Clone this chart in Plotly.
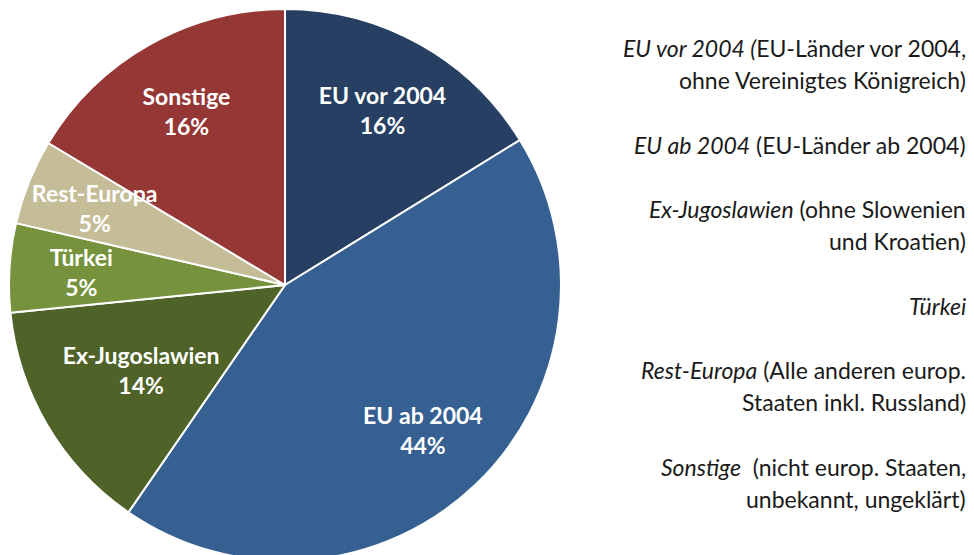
import plotly.graph_objects as go

# slice values estimated from the angles in the picture; shown labels as printed
categories = ["EU vor 2004", "EU ab 2004", "Ex-Jugoslawien", "Türkei", "Rest-Europa", "Sonstige"]
values = [16.2, 43.4, 13.8, 5.2, 5.0, 16.4]
shown_pct = ["16%", "44%", "14%", "5%", "5%", "16%"]
colours = ["#263f62", "#376092", "#4f6228", "#76923c", "#c4bd97", "#953735"]

# explanatory text on the right (blank strings are spacer lines)
notes = [
    "<i>EU vor 2004 (</i>EU-Länder vor 2004,",
    "ohne Vereinigtes Königreich)",
    "",
    "<i>EU ab 2004</i> (EU-Länder ab 2004)",
    "",
    "<i>Ex-Jugoslawien</i> (ohne Slowenien",
    "und Kroatien)",
    "",
    "<i>Türkei</i>",
    "",
    "<i>Rest-Europa</i> (Alle anderen europ.",
    "Staaten inkl. Russland)",
    "",
    "<i>Sonstige</i>  (nicht europ. Staaten,",
    "unbekannt, ungeklärt)",
]

W, H = 974, 555
OFF = 8  # page body margin shifts the figure by 8px
FONT = "Lato, 'Open Sans', Arial, sans-serif"
LABEL_SIZE = 23

# pie geometry in screen pixels (centre and radius)
cx, cy, r = 285 - OFF, 285 - OFF, 276


def domain(radius):
    return dict(
        x=[(cx - radius) / W, (cx + radius) / W],
        y=[max(0.0, 1 - (cy + radius) / H), min(1.0, 1 - (cy - radius) / H)],
    )


labels_txt = [f"<b>{c}<br>{p}</b>" for c, p in zip(categories, shown_pct)]
big = [v >= 15 for v in values]

fig = go.Figure()

# coloured slices, no text
fig.add_trace(go.Pie(
    labels=categories,
    values=values,
    sort=False,
    direction="clockwise",
    rotation=0,
    marker=dict(colors=colours, line=dict(color="#ffffff", width=2)),
    textinfo="none",
    domain=domain(r),
    showlegend=False,
    hoverinfo="label+value",
))


def label_ring(mask, radius, hole):
    # transparent copy of the same data, used only to place the slice labels
    return go.Pie(
        labels=categories,
        values=values,
        text=[t if m else "" for t, m in zip(labels_txt, mask)],
        sort=False,
        direction="clockwise",
        rotation=0,
        hole=hole,
        marker=dict(colors=["rgba(0,0,0,0)"] * len(values), line=dict(width=0)),
        texttemplate="%{text}",
        textposition="inside",
        insidetextorientation="horizontal",
        textfont=dict(family=FONT, size=LABEL_SIZE, color="#ffffff"),
        domain=domain(radius),
        showlegend=False,
        hoverinfo="skip",
    )


fig.add_trace(label_ring(big, r, 0.45))
fig.add_trace(label_ring([not b for b in big], r * 0.86, 0.0))

annotations = []
top_px, pitch = 48 - OFF, 32.2
for i, line in enumerate(notes):
    if not line:
        continue
    y_px = top_px + i * pitch
    annotations.append(dict(
        x=(968 - OFF) / W, y=1 - y_px / H, xref="paper", yref="paper",
        xanchor="right", yanchor="middle", align="right",
        text=line, showarrow=False,
        font=dict(family=FONT, size=23, color="#1a1a1a"),
    ))

fig.update_layout(
    width=W, height=H,
    margin=dict(l=0, r=0, t=0, b=0),
    paper_bgcolor="#ffffff",
    plot_bgcolor="#ffffff",
    uniformtext=dict(minsize=LABEL_SIZE, mode="show"),
    annotations=annotations,
)

fig.write_html("out.html")
